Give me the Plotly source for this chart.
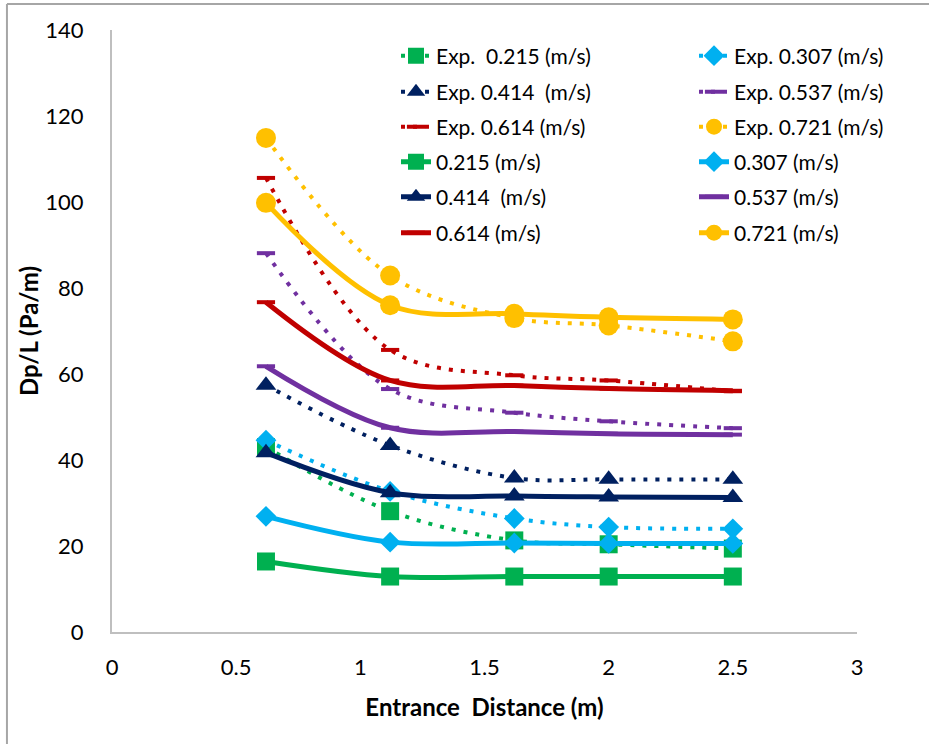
import plotly.graph_objects as go

# Entrance distance positions (m)
distance = [0.62, 1.12, 1.62, 2.0, 2.5]

# Experimental pressure gradient Dp/L (Pa/m)
exp_0215 = [43.0, 28.1, 21.3, 20.4, 19.4]
exp_0307 = [44.6, 32.7, 26.4, 24.4, 24.0]
exp_0414 = [57.4, 43.4, 35.8, 35.5, 35.5]
exp_0537 = [88.1, 56.5, 51.0, 49.0, 47.4]
exp_0614 = [105.6, 65.6, 59.7, 58.5, 56.0]
exp_0721 = [114.9, 82.9, 73.0, 71.3, 67.6]

# Simulated pressure gradient Dp/L (Pa/m)
sim_0215 = [16.4, 12.9, 12.9, 12.9, 12.9]
sim_0307 = [26.9, 20.9, 20.7, 20.6, 20.6]
sim_0414 = [41.7, 32.4, 31.6, 31.4, 31.3]
sim_0537 = [61.8, 47.5, 46.6, 46.1, 45.9]
sim_0614 = [76.7, 58.5, 57.3, 56.6, 56.1]
sim_0721 = [99.8, 76.0, 74.0, 73.2, 72.7]

exp_names = ["Exp.  0.215 (m/s)", "Exp. 0.307 (m/s)", "Exp. 0.414  (m/s)",
             "Exp. 0.537 (m/s)", "Exp. 0.614 (m/s)", "Exp. 0.721 (m/s)"]
sim_names = ["0.215 (m/s)", "0.307 (m/s)", "0.414  (m/s)",
             "0.537 (m/s)", "0.614 (m/s)", "0.721 (m/s)"]

colors = ["#00B050", "#00B0F0", "#002060", "#7030A0", "#C00000", "#FFC000"]
symbols = ["square", "diamond", "triangle-up", "line-ew", "line-ew", "circle"]
msizes = [18, 16, 18, 13, 13, 20]

exp_series = [exp_0215, exp_0307, exp_0414, exp_0537, exp_0614, exp_0721]
sim_series = [sim_0215, sim_0307, sim_0414, sim_0537, sim_0614, sim_0721]

# legend entries in row-major order: six experimental, then six simulated
legend_order = [("exp", i) for i in range(6)] + [("sim", i) for i in range(6)]

fig = go.Figure()

def legend_key(pos):
    row = pos // 2
    return "legend" if row == 0 else f"legend{row + 1}"

for pos, (kind, i) in enumerate(legend_order):
    col = colors[i]
    if kind == "exp":
        ys = exp_series[i]
        name = exp_names[i]
        line = dict(color=col, width=4, dash="4px,8px", shape="spline")
    else:
        ys = sim_series[i]
        name = sim_names[i]
        line = dict(color=col, width=5, shape="spline")
    marker = dict(symbol=symbols[i], size=msizes[i], color=col,
                  line=dict(color=col, width=4 if symbols[i] == "line-ew" else 0))
    fig.add_trace(go.Scatter(
        x=distance, y=ys, name=name, mode="lines+markers",
        line=line, marker=marker, legend=legend_key(pos),
    ))

# one horizontal legend per row, two entries each
row_px = [56, 92, 127, 162, 197, 233]
plot_left, plot_right = 112, 857
plot_top, plot_bottom = 30, 632
legend_font = dict(family="Lato", size=21, color="#000000")
for r, py in enumerate(row_px):
    key = "legend" if r == 0 else f"legend{r + 1}"
    fig.update_layout(**{key: dict(
        orientation="h", x=(396 - plot_left) / (plot_right - plot_left), xanchor="left",
        y=(plot_bottom - py) / (plot_bottom - plot_top), yanchor="middle",
        entrywidth=253, entrywidthmode="pixels",
        font=legend_font, bgcolor="rgba(0,0,0,0)", itemsizing="trace",
        traceorder="normal",
    )})

tick_font = dict(family="Lato", size=22, color="#000000")
title_font = dict(family="Lato", size=24, color="#000000")

fig.update_layout(
    width=929, height=744,
    margin=dict(l=plot_left, r=929 - plot_right, t=plot_top, b=744 - plot_bottom,
                autoexpand=False),
    paper_bgcolor="white", plot_bgcolor="white",
    xaxis=dict(
        range=[0, 3], dtick=0.5, tick0=0, showgrid=False, zeroline=False,
        showline=True, linecolor="#BFBFBF", linewidth=2, ticks="",
        tickfont=tick_font, ticklabelstandoff=15,
        title=dict(text="<b>Entrance  Distance (m)</b>", font=title_font, standoff=20),
    ),
    yaxis=dict(
        range=[0, 140], dtick=20, tick0=0, showgrid=False, zeroline=False,
        showline=True, linecolor="#BFBFBF", linewidth=2, ticks="",
        tickfont=tick_font, ticklabelstandoff=22,
        title=dict(text="<b>Dp/L (Pa/m)</b>", font=title_font, standoff=0),
    ),
    shapes=[
        dict(type="line", xref="paper", yref="paper",
             x0=-0.141, x1=-0.141, y0=1.043, y1=-0.2,
             line=dict(color="#A6A6A6", width=2)),
        dict(type="line", xref="paper", yref="paper",
             x0=-0.141, x1=1.2, y0=1.043, y1=1.043,
             line=dict(color="#A6A6A6", width=2)),
    ],
)

fig.write_html("out.html")
